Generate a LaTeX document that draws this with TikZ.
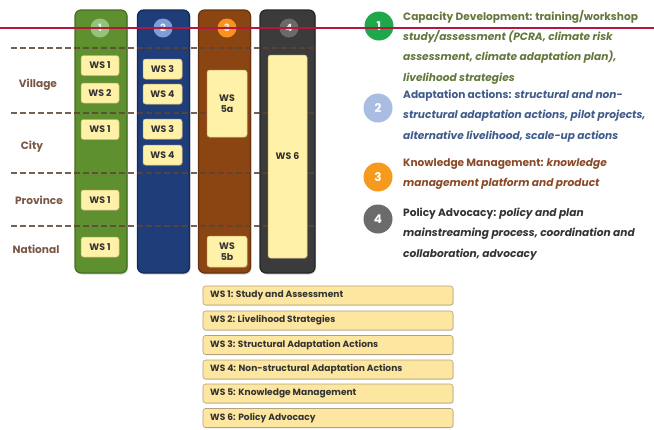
\documentclass[tikz,border=0pt]{standalone}
\usepackage{fontspec}
\setmainfont{Poppins}
\usetikzlibrary{shadows}
\definecolor{colgreen}{HTML}{5E9030}
\definecolor{colgreenb}{HTML}{456E22}
\definecolor{colblue}{HTML}{1F3D78}
\definecolor{colblueb}{HTML}{142B58}
\definecolor{colbrown}{HTML}{8A4513}
\definecolor{colbrownb}{HTML}{66320C}
\definecolor{coldark}{HTML}{3B3B3B}
\definecolor{coldarkb}{HTML}{262626}
\definecolor{numgreen}{HTML}{92C47A}
\definecolor{numblue}{HTML}{7F9DD8}
\definecolor{numorange}{HTML}{F7931E}
\definecolor{numgray}{HTML}{6A6A6A}
\definecolor{biggreen}{HTML}{1EA84B}
\definecolor{bigblue}{HTML}{A9BDE2}
\definecolor{bigorange}{HTML}{F59A1C}
\definecolor{biggray}{HTML}{6B6B6B}
\definecolor{wsfill}{HTML}{FFF1A8}
\definecolor{wsborder}{HTML}{C9B478}
\definecolor{keyfill}{HTML}{FDE7A0}
\definecolor{keyborder}{HTML}{B4A27A}
\definecolor{levelbrown}{HTML}{7A5646}
\definecolor{dashbrown}{HTML}{5C4536}
\definecolor{redrule}{HTML}{B3173D}
\definecolor{txtgreen}{HTML}{63783C}
\definecolor{txtblue}{HTML}{3F5C8C}
\definecolor{txtbrown}{HTML}{8A4A28}
\definecolor{txtdark}{HTML}{333333}
\begin{document}
\begin{tikzpicture}[x=1pt,y=-1pt,
  column/.style={draw, line width=1.2pt, rounded corners=6pt, minimum width=52pt,
    drop shadow={opacity=0.35, shadow xshift=1pt, shadow yshift=-1.5pt}},
  colnum/.style={circle, inner sep=0pt, minimum size=19pt, text=white!90!gray,
    font=\fontsize{10}{10}\selectfont\bfseries},
  wsbox/.style={draw=wsborder, fill=wsfill, line width=0.5pt, rounded corners=2.5pt,
    inner sep=0pt, text=txtdark, align=center,
    font=\fontsize{9.4}{11.5}\selectfont\bfseries,
    drop shadow={opacity=0.3, shadow xshift=0.8pt, shadow yshift=-0.8pt}},
  level/.style={text=levelbrown, font=\fontsize{10.6}{12}\selectfont\bfseries},
  dashline/.style={draw=dashbrown, line width=1.1pt, dash pattern=on 6pt off 3pt, opacity=0.85},
  keybox/.style={draw=keyborder, fill=keyfill, line width=0.6pt, rounded corners=2.5pt,
    minimum width=250pt, minimum height=19pt, inner sep=0pt,
    drop shadow={opacity=0.25, shadow xshift=0.6pt, shadow yshift=-0.8pt}},
  keytext/.style={anchor=west, text=txtdark, font=\fontsize{9.1}{10}\selectfont\bfseries},
  bignum/.style={circle, inner sep=0pt, minimum size=29pt, text=white,
    font=\fontsize{12}{12}\selectfont\bfseries},
  legend/.style={anchor=north west, align=left, inner sep=0pt,
    font=\fontsize{10.6}{20.3}\selectfont\bfseries}
]
\useasboundingbox (0,0) rectangle (654,429);

% the four activity columns
\node[column, draw=colgreenb, fill=colgreen, minimum height=263pt] (c1) at (101,141.5) {};
\node[column, draw=colblueb, fill=colblue, minimum height=263pt] (c2) at (163.5,141.5) {};
\node[column, draw=colbrownb, fill=colbrown, minimum height=263pt] (c3) at (224.5,141.5) {};
\node[column, draw=coldarkb, fill=coldark, minimum width=55pt, minimum height=263pt] (c4) at (287.5,141.5) {};

\node[colnum, fill=numgreen] (n1) at (100,28) {1};
\node[colnum, fill=numblue] (n2) at (163,28) {2};
\node[colnum, fill=numorange] (n3) at (227,28) {3};
\node[colnum, fill=numgray] (n4) at (289,28) {4};

% level separators
\draw[dashline] (11,48) -- (315,48);
\draw[dashline] (11,113) -- (315,113);
\draw[dashline] (11,173) -- (315,173);
\draw[dashline] (11,226) -- (315,226);

% level names
\node[level] (lv1) at (38,85) {Village};
\node[level] (lv2) at (32,147) {City};
\node[level] (lv3) at (39,200) {Province};
\node[level] (lv4) at (36,249) {National};

% work streams per column
\node[wsbox, minimum width=38pt, minimum height=20pt] (a1) at (100,65.5) {WS 1};
\node[wsbox, minimum width=38pt, minimum height=20pt] (a2) at (100,93) {WS 2};
\node[wsbox, minimum width=38pt, minimum height=20pt] (a3) at (100,129.5) {WS 1};
\node[wsbox, minimum width=38pt, minimum height=20pt] (a4) at (100,200) {WS 1};
\node[wsbox, minimum width=38pt, minimum height=20pt] (a5) at (100,247) {WS 1};

\node[wsbox, minimum width=39pt, minimum height=20pt] (b1) at (162.5,69) {WS 3};
\node[wsbox, minimum width=39pt, minimum height=20pt] (b2) at (162.5,94) {WS 4};
\node[wsbox, minimum width=39pt, minimum height=20pt] (b3) at (162.5,129) {WS 3};
\node[wsbox, minimum width=39pt, minimum height=20pt] (b4) at (162.5,155) {WS 4};

\node[wsbox, minimum width=40pt, minimum height=67pt] (s1) at (227,103.5) {WS\\5a};
\node[wsbox, minimum width=40pt, minimum height=31pt] (s2) at (227,251.5) {WS\\5b};

\node[wsbox, minimum width=39pt, minimum height=203pt] (p1) at (287.5,156.5) {WS 6};

% key to the work streams
\node[keybox] (k1) at (328,295.5) {};
\node[keybox] (k2) at (328,320.5) {};
\node[keybox] (k3) at (328,345) {};
\node[keybox] (k4) at (328,369.5) {};
\node[keybox] (k5) at (328,393.5) {};
\node[keybox] (k6) at (328,418) {};
\node[keytext] at ([xshift=4pt]k1.west) {WS 1: Study and Assessment};
\node[keytext] at ([xshift=4pt]k2.west) {WS 2: Livelihood Strategies};
\node[keytext] at ([xshift=4pt]k3.west) {WS 3: Structural Adaptation Actions};
\node[keytext] at ([xshift=4pt]k4.west) {WS 4: Non-structural Adaptation Actions};
\node[keytext] at ([xshift=4pt]k5.west) {WS 5: Knowledge Management};
\node[keytext] at ([xshift=4pt]k6.west) {WS 6: Policy Advocacy};

% legend of the four components
\node[bignum, fill=biggreen] (g1) at (379,26) {1};
\node[bignum, fill=bigblue] (g2) at (378,108) {2};
\node[bignum, fill=bigorange] (g3) at (378,177) {3};
\node[bignum, fill=biggray] (g4) at (378,219) {4};

\node[legend, text=txtgreen] (t1) at (403,10) {Capacity Development: training/workshop\\
  \itshape study/assessment (PCRA, climate risk\\
  \itshape assessment, climate adaptation plan),\\
  \itshape livelihood strategies};
\node[legend, text=txtblue] (t2) at (403,90) {Adaptation actions: \itshape structural and non-\\
  \itshape structural adaptation actions, pilot projects,\\
  \itshape alternative livelihood, scale-up actions};
\node[legend, text=txtbrown] (t3) at (403,158) {Knowledge Management: \itshape knowledge\\
  \itshape management platform and product};
\node[legend, text=txtdark] (t4) at (403,208) {Policy Advocacy: \itshape policy and plan\\
  \itshape mainstreaming process, coordination and\\
  \itshape collaboration, advocacy};

% red rule across the top
\draw[redrule, line width=1.3pt] (0,28) -- (654,28);
\end{tikzpicture}
\end{document}
